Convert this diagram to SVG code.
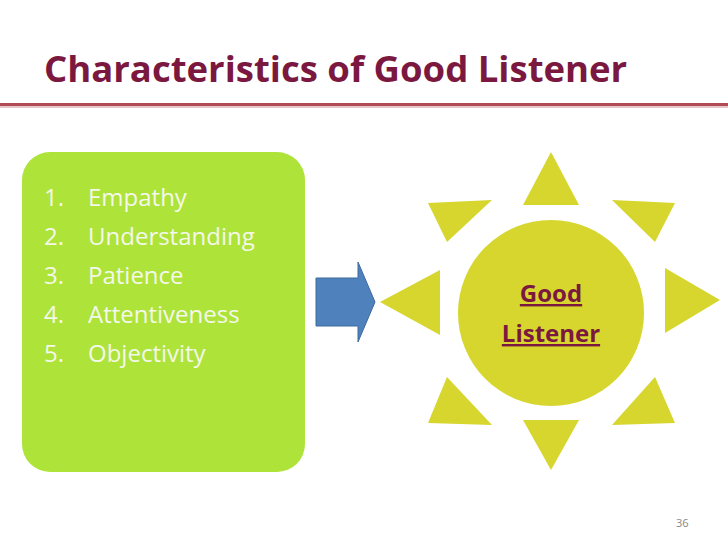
<svg xmlns="http://www.w3.org/2000/svg" width="728" height="546" viewBox="0 0 728 546">
<style>
.t{font-family:"Open Sans","Liberation Sans",sans-serif}
.li{font-size:24px;fill:#f4f8ea}
.ray{fill:#d6d62e}
</style>
<rect width="728" height="546" fill="#fff"/>
<text class="t" x="44" y="82" font-size="36.5" font-weight="bold" fill="#7b1840">Characteristics of Good Listener</text>
<rect x="0" y="103" width="728" height="3" fill="#b04a55"/>
<rect x="0" y="106" width="728" height="2" fill="#e6c6c8"/>
<g id="list">
<rect x="22" y="152" width="283" height="320" rx="28" fill="#aee33a"/>
<text class="t li" x="44" y="206">1.<tspan x="88">Empathy</tspan></text>
<text class="t li" x="44" y="245">2.<tspan x="88">Understanding</tspan></text>
<text class="t li" x="44" y="284">3.<tspan x="88">Patience</tspan></text>
<text class="t li" x="44" y="323">4.<tspan x="88">Attentiveness</tspan></text>
<text class="t li" x="44" y="362">5.<tspan x="88">Objectivity</tspan></text>
</g>
<g id="connectors">
<polygon points="316,278 358,278 358,262 375,302 358,342 358,326 316,326" fill="#4f81bd" stroke="#3d6a9e" stroke-width="1"/>
</g>
<g id="sun">
<polygon class="ray" points="551,152 523,205 579,205"/>
<polygon class="ray" points="551,470 523,420 579,420"/>
<polygon class="ray" points="380,302 440,270 440,335"/>
<polygon class="ray" points="720,300 665,268 665,333"/>
<polygon class="ray" points="428,203 492,200 447,242"/>
<polygon class="ray" points="675,203 612,200 655,242"/>
<polygon class="ray" points="428,423 447,377 492,425"/>
<polygon class="ray" points="675,423 655,377 612,425"/>
<circle cx="551" cy="313" r="93" class="ray"/>
<text class="t" x="551" y="302" font-size="24" font-weight="bold" fill="#7b1840" text-anchor="middle" text-decoration="underline">Good</text>
<text class="t" x="551" y="342" font-size="24" font-weight="bold" fill="#7b1840" text-anchor="middle" text-decoration="underline">Listener</text>
</g>
<text class="t" x="676" y="527" font-size="11" fill="#888">36</text>
</svg>
